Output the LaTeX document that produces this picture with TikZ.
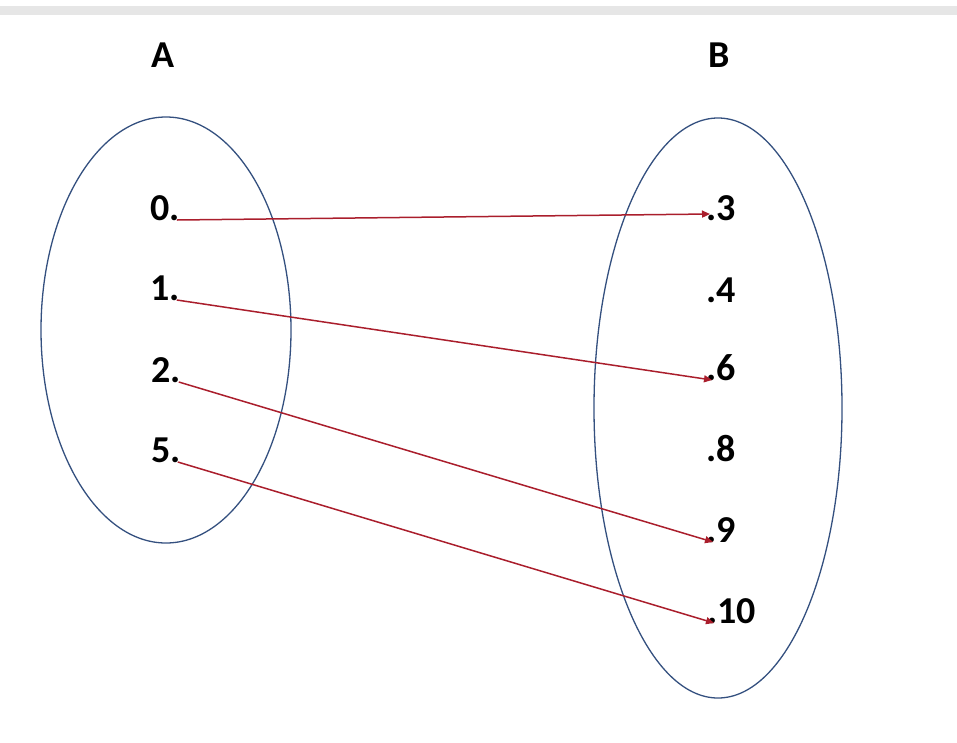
\documentclass[tikz,border=0pt]{standalone}
\usepackage{fontspec}
\setmainfont{Carlito}
\usepackage{tikz}
\usetikzlibrary{arrows.meta,positioning}
\definecolor{setc}{HTML}{34507F}
\definecolor{mapc}{HTML}{AA1E2C}
\definecolor{topbar}{HTML}{E6E6E6}
\tikzset{
  lab/.style={font=\fontsize{38}{45}\selectfont\bfseries,inner sep=0pt},
  elt/.style={lab},
  ar/.style={-{Triangle[length=8pt,width=7pt]},mapc,line width=1.5pt},
  setring/.style={draw=setc,line width=1.3pt}
}
\begin{document}
\begin{tikzpicture}[x=1pt,y=-1pt]
\useasboundingbox (0,0) rectangle (957,742);
\fill[topbar] (0,6) rectangle (957,15);
% the two sets
\draw[setring] (166,330) ellipse [x radius=125,y radius=213];
\draw[setring] (718,408) ellipse [x radius=124,y radius=290];
\node[lab,anchor=base] (A) at (163,67) {A};
\node[lab,anchor=base] (B) at (719,67) {B};
% elements of A
\node[elt,anchor=base west] (a0) at (150,220) {0.};
\node[elt,anchor=base west] (a1) at (150,300) {1.};
\node[elt,anchor=base west] (a2) at (151,382) {2.};
\node[elt,anchor=base west] (a5) at (151,462) {5.};
% elements of B
\node[elt,anchor=base west] (b3) at (706,220) {.3};
\node[elt,anchor=base west] (b4) at (706,302) {.4};
\node[elt,anchor=base west] (b6) at (706,380) {.6};
\node[elt,anchor=base west] (b8) at (706,461) {.8};
\node[elt,anchor=base west] (b9) at (706,542) {.9};
\node[elt,anchor=base west] (b10) at (707,623) {.10};
% the mapping
\draw[ar] ([xshift=-3pt]a0.base east) -- ([xshift=4pt,yshift=6pt]b3.base west);
\draw[ar] ([xshift=-3pt]a1.base east) -- ([xshift=6pt]b6.base west);
\draw[ar] ([xshift=-2pt]a2.base east) -- ([xshift=7pt]b9.base west);
\draw[ar] ([xshift=-3pt]a5.base east) -- ([xshift=7pt]b10.base west);
\end{tikzpicture}
\end{document}
